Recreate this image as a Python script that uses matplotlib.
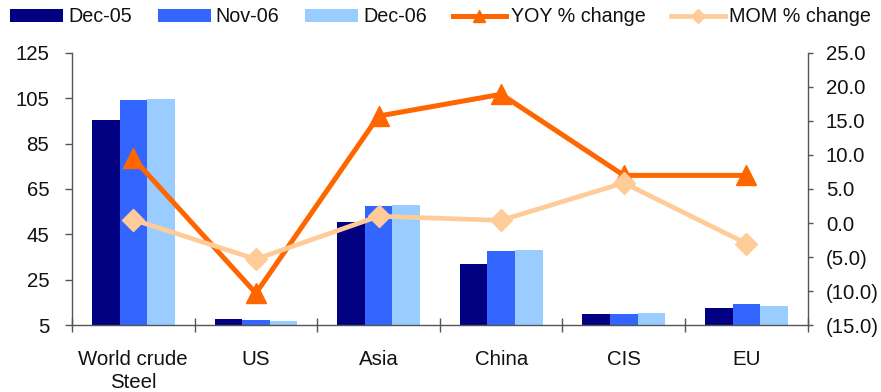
import matplotlib
matplotlib.use("Agg")
import matplotlib.pyplot as plt
from matplotlib.lines import Line2D
from matplotlib.patches import Patch
from matplotlib.ticker import FuncFormatter
import numpy as np

plt.rcParams['font.family'] = ['Liberation Sans', 'DejaVu Sans']

categories = ["World crude\nSteel", "US", "Asia", "China", "CIS", "EU"]
dec05 = [95.4, 7.8, 50.5, 32.0, 10.0, 12.6]
nov06 = [104.2, 7.3, 57.5, 37.7, 10.0, 14.4]
dec06 = [104.6, 6.9, 58.0, 38.1, 10.4, 13.5]
yoy = [9.5, -10.3, 15.7, 18.9, 7.0, 7.0]
mom = [0.5, -5.3, 1.0, 0.4, 5.9, -3.0]

bar_names = ["Dec-05", "Nov-06", "Dec-06"]
bar_colors = ["#000080", "#3366FF", "#99CCFF"]
yoy_color = "#FF6600"
mom_color = "#FFCC99"
axis_color = "#555555"
text_color = "#111111"
fs = 14.7
leg_fs = 14.2

W, H = 881, 392
fig = plt.figure(figsize=(W / 100, H / 100), dpi=100)
ax = fig.add_axes([72 / W, 1 - 325.3 / H, (807.7 - 72) / W, (325.3 - 52.7) / H])
ax2 = ax.twinx()

x = np.arange(len(categories))
bw = 0.225
for i, (vals, c) in enumerate(zip([dec05, nov06, dec06], bar_colors)):
    ax.bar(x + (i - 1) * bw, np.array(vals) - 5, bw, bottom=5, color=c, linewidth=0, zorder=2)

ax.set_xlim(-0.5, len(categories) - 0.5)
ax.set_ylim(5, 125)
ax.set_yticks(np.arange(5, 126, 20))

ax2.plot(x, yoy, color=yoy_color, lw=3.6, marker='^', ms=15, zorder=3, clip_on=False)
ax2.plot(x, mom, color=mom_color, lw=3.4, marker='D', ms=11, zorder=3, clip_on=False)
ax2.set_ylim(-15, 25)
ax2.set_yticks(np.arange(-15, 26, 5))

def paren(v, pos):
    if v < 0:
        return "({:.1f})".format(-v)
    return "{:.1f}".format(v)

ax2.yaxis.set_major_formatter(FuncFormatter(paren))

# x ticks: labels at centers, tick marks at boundaries
ax.set_xticks(x)
ax.set_xticklabels(categories, fontsize=fs, color=text_color, linespacing=1.3)
ax.set_xticks(np.arange(-0.5, len(categories), 1), minor=True)
ax.tick_params(axis='x', which='major', length=0, pad=17.5)
ax.tick_params(axis='x', which='minor', direction='inout', length=9.5, width=1, color=axis_color)
ax.tick_params(axis='y', which='major', direction='out', length=5.3, width=1, color=axis_color,
               labelsize=fs, labelcolor=text_color, pad=11)
ax2.tick_params(axis='y', which='major', direction='out', length=3.5, width=1, color=axis_color,
                labelsize=fs, labelcolor=text_color, pad=9.5)

for a in (ax, ax2):
    a.spines['top'].set_visible(False)
    for s in ('left', 'right', 'bottom'):
        a.spines[s].set_color(axis_color)
        a.spines[s].set_linewidth(1)
ax.spines['right'].set_visible(False)
ax2.spines['left'].set_visible(False)
ax2.spines['bottom'].set_visible(False)
ax.patch.set_visible(False)

handles = [Patch(facecolor=c, edgecolor='none', label=n) for n, c in zip(bar_names, bar_colors)]
handles.append(Line2D([], [], color=yoy_color, lw=3.6, marker='^', ms=8, label="YOY % change"))
handles.append(Line2D([], [], color=mom_color, lw=3.4, marker='D', ms=7, label="MOM % change"))
leg = fig.legend(handles=handles, loc='center left', bbox_to_anchor=(10 / W, 1 - 17 / H),
                 ncol=5, frameon=False, fontsize=leg_fs, handlelength=2.7, handletextpad=0.25,
                 columnspacing=1.3, borderpad=0, borderaxespad=0, handleheight=0.68)
for t in leg.get_texts():
    t.set_color(text_color)

fig.savefig("out.png", dpi=100)
